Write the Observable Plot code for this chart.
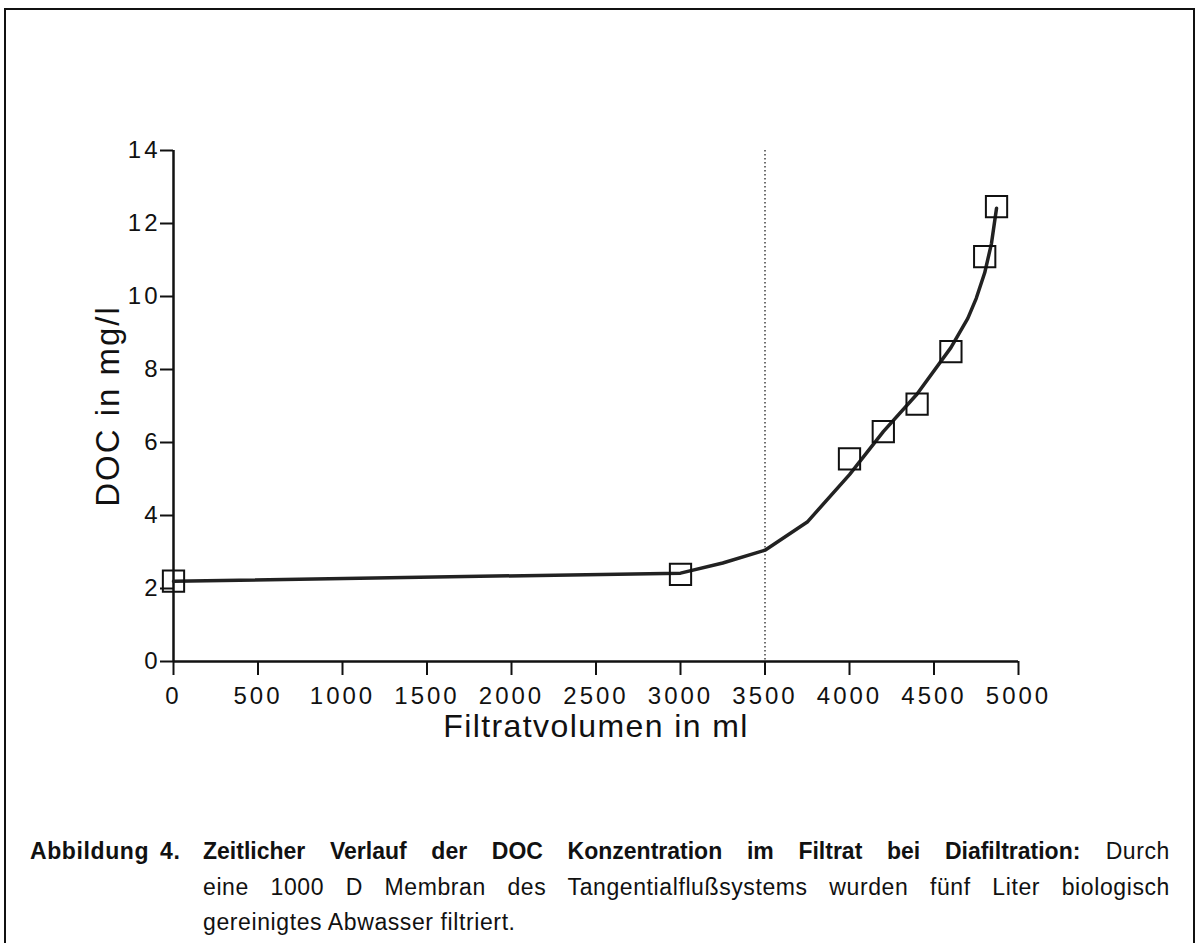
<!DOCTYPE html>
<html>
<head>
<meta charset="utf-8">
<script src="https://cdn.jsdelivr.net/npm/d3@7"></script>
<script src="https://cdn.jsdelivr.net/npm/@observablehq/plot@0.6"></script>
<style>
  html, body { margin: 0; padding: 0; background: #fff; overflow: hidden; }
  #wrap { position: relative; width: 1197px; height: 943px; }
  #frame { position: absolute; left: 4px; top: 8px; width: 1187px; height: 1000px;
           border: 2px solid #111; border-bottom: none; pointer-events: none; }
  #chart svg { display: block; }
  .caption { position: relative; height: 143px; font-family: 'Liberation Sans', Arial, sans-serif;
             font-size: 23px; color: #111; }
  .lab { position: absolute; left: 30px; top: 34px; line-height: 35.5px; font-weight: bold;
         letter-spacing: 0.6px; word-spacing: 4px; }
  .txt { position: absolute; left: 203px; top: 34px; width: 967px; line-height: 35.5px; }
  .line { text-align: justify; text-align-last: justify; letter-spacing: 0.6px; }
  .line.last { text-align-last: left; }
  .line b { letter-spacing: 0; }
</style>
</head>
<body>
<div id="wrap">
  <div id="chart"></div>
  <div class="caption">
    <div class="lab">Abbildung 4.</div>
    <div class="txt">
      <div class="line"><b>Zeitlicher Verlauf der DOC Konzentration im Filtrat bei Diafiltration:</b> Durch</div>
      <div class="line">eine 1000 D Membran des Tangentialflußsystems wurden fünf Liter biologisch</div>
      <div class="line last">gereinigtes Abwasser filtriert.</div>
    </div>
  </div>
  <div id="frame"></div>
</div>
<script>
// Tick values
const xTicks = [0, 500, 1000, 1500, 2000, 2500, 3000, 3500, 4000, 4500, 5000];
const yTicks = [0, 2, 4, 6, 8, 10, 12, 14];

// Measured points (squares)
const volume = [0, 3000, 4000, 4200, 4400, 4600, 4800, 4870];
const doc = [2.2, 2.39, 5.55, 6.3, 7.05, 8.49, 11.09, 12.46];

// Fitted curve
const fitVolume = [0, 3000, 3250, 3500, 3750, 4000, 4200, 4400, 4600, 4700, 4750, 4800, 4840, 4870];
const fitDoc = [2.2, 2.42, 2.7, 3.05, 3.82, 5.12, 6.3, 7.33, 8.6, 9.4, 9.95, 10.65, 11.45, 12.42];

// Vertical dotted marker
const cutoff = [3500];

const xLabel = "Filtratvolumen in ml";
const yLabel = "DOC in mg/l";

const points = volume.map((v, i) => ({v, c: doc[i]}));
const fit = fitVolume.map((v, i) => ({v, c: fitDoc[i]}));

const svg = Plot.plot({
  width: 1197,
  height: 800,
  marginLeft: 173,
  marginRight: 179,
  marginTop: 150,
  marginBottom: 139,
  x: {domain: [0, 5000]},
  y: {domain: [0, 14]},
  style: "font-family: 'Liberation Sans', Arial, sans-serif; font-size: 24px; letter-spacing: 3px; color: #111; background: transparent; overflow: visible;",
  marks: [
    Plot.ruleX(cutoff, {stroke: "#222", strokeWidth: 1.3, strokeDasharray: "1.5,2.5"}),
    Plot.ruleY([0], {stroke: "#111", strokeWidth: 2.5}),
    Plot.ruleX([0], {stroke: "#111", strokeWidth: 2.5}),
    Plot.axisX({ticks: xTicks, tickSize: 14, tickPadding: 11, strokeWidth: 2, label: null,
                tickFormat: d => String(d), fontSize: 24, fill: "#111"}),
    Plot.axisY({ticks: yTicks, tickSize: 13, tickPadding: 0, strokeWidth: 2, label: null,
                tickFormat: d => String(d), fontSize: 24, fill: "#111"}),
    Plot.line(fit, {x: "v", y: "c", stroke: "#222", strokeWidth: 3.5, strokeLinejoin: "round"}),
    Plot.dot(points, {x: "v", y: "c", symbol: "square", r: 12, stroke: "#111", strokeWidth: 2, fill: "none"}),
    Plot.text([xLabel], {frameAnchor: "bottom", dy: 75, fontSize: 32, fill: "#111", textAnchor: "middle"}),
    Plot.text([yLabel], {frameAnchor: "left", rotate: -90, dx: -65, fontSize: 33, fill: "#111", textAnchor: "middle"})
  ]
});

svg.querySelectorAll('g[aria-label="text"] text').forEach(t => {
  if (t.textContent === xLabel) t.style.letterSpacing = "1.4px";
  if (t.textContent === yLabel) t.style.letterSpacing = "2px";
});

document.getElementById("chart").appendChild(svg);
</script>
</body>
</html>
